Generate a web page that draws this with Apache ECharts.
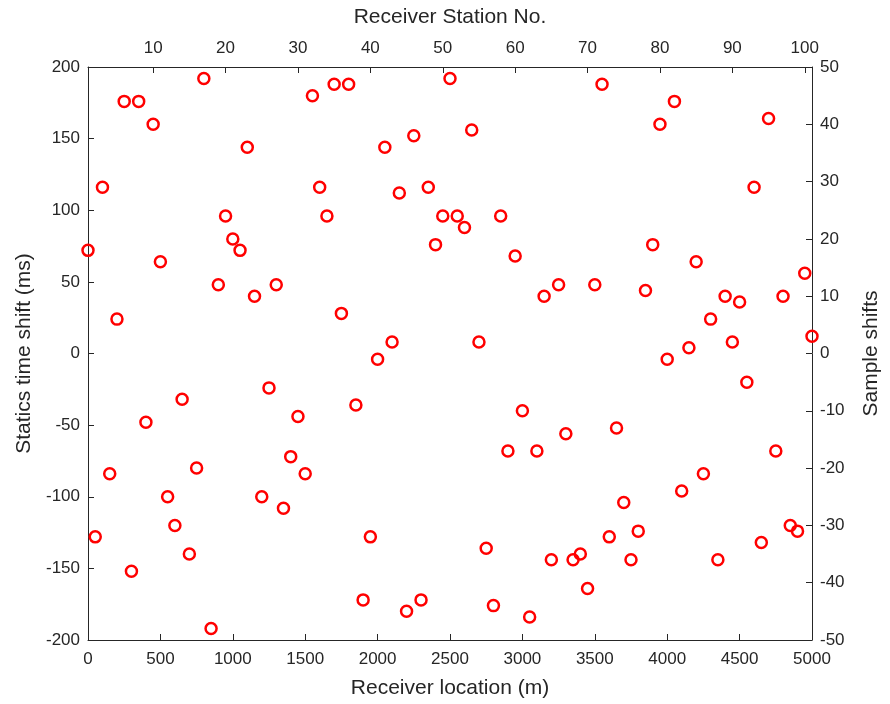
<!DOCTYPE html>
<html>
<head>
<meta charset="utf-8">
<script src="https://cdn.jsdelivr.net/npm/echarts@6/dist/echarts.min.js"></script>
<style>
html,body{margin:0;padding:0;background:#fff;}
#chart{width:890px;height:704px;}
</style>
</head>
<body>
<div id="chart"></div>
<script>
// Receiver locations (m), one per station (station = location/50 + 1)
const locations = [];
for (let i = 0; i <= 100; i++) locations.push(i * 50);

// Statics time shift (ms)
const shiftsMs = [
  72, -128, 116, -84, 24, 176, -152, 176, -48, 160,
  64, -100, -120, -32, -140, -80, 192, -192, 48, 96,
  80, 72, 144, 40, -100, -24, 48, -108, -72, -44,
  -84, 180, 116, 96, 188, 28, 188, -36, -172, -128,
  -4, 144, 8, 112, -180, 152, -172, 116, 76, 96,
  192, 96, 88, 156, 8, -136, -176, 96, -68, 68,
  -40, -184, -68, 40, -144, 48, -56, -144, -140, -164,
  48, 188, -128, -52, -104, -144, -124, 44, 76, 160,
  -4, 176, -96, 4, 64, -84, 24, -144, 40, 8,
  36, -20, 116, -132, 164, -68, 40, -120, -124, 56,
  12
];

const stationTicks = [10, 20, 30, 40, 50, 60, 70, 80, 90, 100];

const points = locations.map((x, i) => [x, shiftsMs[i]]);

const txt = '#262626';
const lineC = '#262626';
const font = 'Liberation Sans, Arial, Helvetica, sans-serif';
const plain = v => String(v);

const chart = echarts.init(document.getElementById('chart'));
chart.setOption({
  animation: false,
  backgroundColor: '#fff',
  grid: {left: 88, right: 72, top: 67, bottom: 63, containLabel: false},
  xAxis: [
    {
      type: 'value', position: 'bottom', min: 0, max: 5000, interval: 500,
      name: 'Receiver location (m)', nameLocation: 'middle', nameGap: 38,
      nameTextStyle: {color: txt, fontSize: 21, fontFamily: font},
      axisLine: {show: true, onZero: false, lineStyle: {color: lineC, width: 1}},
      axisTick: {show: true, inside: true, length: 6, lineStyle: {color: lineC}},
      axisLabel: {color: txt, fontSize: 17, fontFamily: font, margin: 11, formatter: plain},
      splitLine: {show: false}
    },
    {
      type: 'value', position: 'top', min: 1, max: 101,
      name: 'Receiver Station No.', nameLocation: 'middle', nameGap: 39,
      nameTextStyle: {color: txt, fontSize: 21, fontFamily: font},
      axisLine: {show: true, onZero: false, lineStyle: {color: lineC, width: 1}},
      axisTick: {show: true, inside: true, length: 6, lineStyle: {color: lineC}, customValues: stationTicks},
      axisLabel: {color: txt, fontSize: 17, fontFamily: font, margin: 10, customValues: stationTicks, formatter: plain},
      splitLine: {show: false}
    }
  ],
  yAxis: [
    {
      type: 'value', position: 'left', min: -200, max: 200, interval: 50,
      name: 'Statics time shift (ms)', nameLocation: 'middle', nameGap: 47, nameRotate: 90,
      nameTextStyle: {color: txt, fontSize: 21, fontFamily: font},
      axisLine: {show: true, onZero: false, lineStyle: {color: lineC, width: 1}},
      axisTick: {show: true, inside: true, length: 6, lineStyle: {color: lineC}},
      axisLabel: {color: txt, fontSize: 17, fontFamily: font, margin: 8},
      splitLine: {show: false}
    },
    {
      type: 'value', position: 'right', min: -50, max: 50, interval: 10,
      name: 'Sample shifts', nameLocation: 'middle', nameGap: 49, nameRotate: 90,
      nameTextStyle: {color: txt, fontSize: 21, fontFamily: font},
      axisLine: {show: true, onZero: false, lineStyle: {color: lineC, width: 1}},
      axisTick: {show: true, inside: true, length: 6, lineStyle: {color: lineC}},
      axisLabel: {color: txt, fontSize: 17, fontFamily: font, margin: 8},
      splitLine: {show: false}
    }
  ],
  series: [{
    type: 'scatter',
    xAxisIndex: 0, yAxisIndex: 0,
    data: points,
    symbol: 'circle',
    symbolSize: 11,
    itemStyle: {color: 'rgba(0,0,0,0)', borderColor: '#ff0000', borderWidth: 2.5, opacity: 1},
    clip: false
  }]
});
</script>
</body>
</html>
